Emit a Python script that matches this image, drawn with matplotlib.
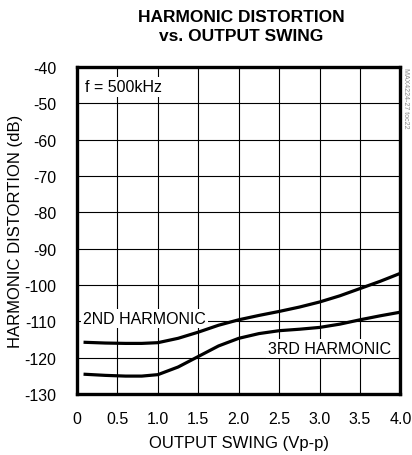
import matplotlib
matplotlib.use("Agg")
import matplotlib.pyplot as plt

plt.rcParams['font.family'] = ['Liberation Sans', 'DejaVu Sans']

# output swing (Vp-p)
swing = [0.1, 0.35, 0.6, 0.8, 1.0, 1.25, 1.5, 1.75, 2.0, 2.25, 2.5, 2.75, 3.0, 3.25, 3.5, 3.75, 4.0]
# harmonic distortion (dB)
hd2 = [-115.8, -116.0, -116.1, -116.1, -115.9, -114.7, -113.0, -111.1, -109.6, -108.4, -107.3, -106.1, -104.7, -103.0, -101.0, -99.0, -96.8]
hd3 = [-124.6, -124.9, -125.1, -125.1, -124.7, -122.6, -119.7, -116.8, -114.7, -113.4, -112.6, -112.2, -111.7, -110.8, -109.6, -108.5, -107.5]

xticks = [0, 0.5, 1.0, 1.5, 2.0, 2.5, 3.0, 3.5, 4.0]
xticklabels = ["0", "0.5", "1.0", "1.5", "2.0", "2.5", "3.0", "3.5", "4.0"]
yticks = list(range(-130, -39, 10))

fig = plt.figure(figsize=(4.12, 4.56), dpi=100)
ax = fig.add_axes([0.187, 0.134, 0.785, 0.717])

ax.plot(swing, hd2, color="black", lw=2.3, zorder=3)
ax.plot(swing, hd3, color="black", lw=2.3, zorder=3)

ax.set_xlim(0, 4.0)
ax.set_ylim(-130, -40)
ax.set_xticks(xticks)
ax.set_xticklabels(xticklabels)
ax.set_yticks(yticks)
ax.set_yticklabels([str(v) for v in yticks])
ax.grid(True, color="black", lw=0.8)
ax.tick_params(length=0, labelsize=11.5, pad=12)
ax.tick_params(axis="y", pad=15)
for s in ax.spines.values():
    s.set_linewidth(2.4)

ax.set_xlabel("OUTPUT SWING (Vp-p)", fontsize=12, labelpad=7)
ax.set_ylabel("HARMONIC DISTORTION (dB)", fontsize=12)
ax.yaxis.set_label_coords(-0.168, 0.5)

box = dict(facecolor="white", edgecolor="none", pad=1.5)
ax.text(0.1, -45.5, "f = 500kHz", fontsize=11.5, ha="left", va="center", bbox=box, zorder=4)
ax.text(0.83, -109.2, "2ND HARMONIC", fontsize=11.5, ha="center", va="center", bbox=box, zorder=2)
ax.text(3.12, -117.6, "3RD HARMONIC", fontsize=11.5, ha="center", va="center", bbox=box, zorder=2)

fig.text(0.585, 0.978, "HARMONIC DISTORTION\nvs. OUTPUT SWING", ha="center", va="top",
         fontsize=12.5, fontweight="bold", linespacing=1.3)
fig.text(0.985, 0.85, "MAX4224-27 toc22", rotation=270, ha="center", va="top",
         fontsize=5, color="#888888")

fig.savefig("out.png", dpi=100)
plt.close(fig)
